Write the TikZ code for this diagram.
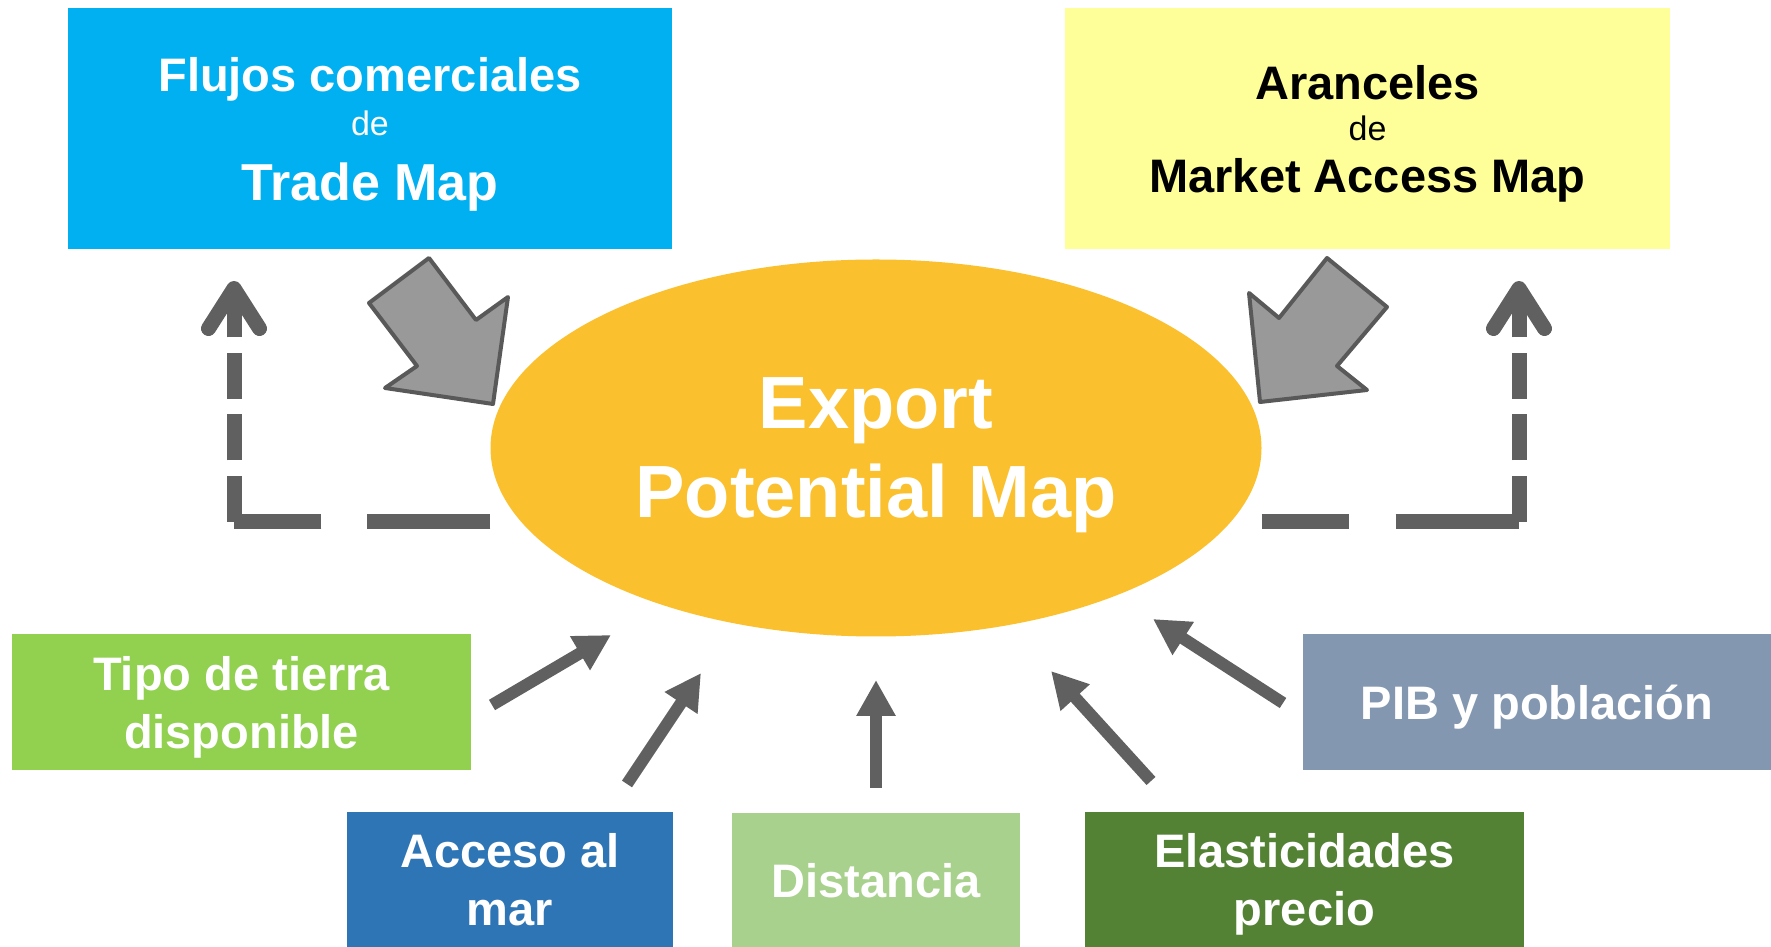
\documentclass[tikz,border=0pt]{standalone}
\usepackage{fontspec}
\setmainfont{Liberation Sans}
\usetikzlibrary{shapes.geometric,arrows.meta}

\definecolor{tmblue}{HTML}{00B0F0}
\definecolor{macyellow}{HTML}{FFFF99}
\definecolor{epmorange}{HTML}{FBC02D}
\definecolor{landgreen}{HTML}{92D050}
\definecolor{gdpgray}{HTML}{8497B0}
\definecolor{seablue}{HTML}{2E75B6}
\definecolor{distgreen}{HTML}{A9D18E}
\definecolor{elasgreen}{HTML}{548235}
\definecolor{arrowgray}{HTML}{606060}
\definecolor{blockgray}{HTML}{999999}
\definecolor{blockedge}{HTML}{595959}

\newcommand{\linesize}[1]{\fontsize{#1}{58}\selectfont}

\tikzset{
  box/.style={rectangle, inner sep=0pt, align=center, text=white, text depth=0pt,
    font=\fontsize{47}{58}\selectfont\bfseries},
  flow/.style={draw=arrowgray, line width=12pt, -{Triangle[length=36pt,width=37pt]}},
  feedback/.style={draw=arrowgray, line width=15pt},
  blockarrow/.style={fill=blockgray, draw=blockedge, line width=4pt, line join=round},
}

\begin{document}
\begin{tikzpicture}[x=1pt,y=1pt]
\useasboundingbox (0,0) rectangle (1771,947);
% Nodes
\node[box, fill=tmblue, minimum width=604pt, minimum height=241pt] (tm) at (370,818.5)
  {Flujos comerciales\\[-14pt] \linesize{34}\mdseries de\\[7pt] \linesize{52}\bfseries Trade Map};
\node[box, fill=macyellow, text=black, minimum width=605pt, minimum height=241pt] (mam) at (1367.5,818.5)
  {Aranceles\\[-17pt] \linesize{34}\mdseries de\\[-6pt] Market Access Map};
\node[ellipse, fill=epmorange, inner sep=0pt, minimum width=771pt, minimum height=377pt,
  align=center, text=white, text depth=0pt, font=\fontsize{74}{89}\selectfont\bfseries] (epm) at (876,499)
  {Export\\Potential Map};
\node[box, fill=landgreen, minimum width=459pt, minimum height=136pt] (land) at (241.5,245)
  {Tipo de tierra\\disponible};
\node[box, fill=gdpgray, minimum width=468pt, minimum height=136pt] (gdp) at (1537,245)
  {PIB y población};
\node[box, fill=seablue, minimum width=326pt, minimum height=135pt] (sea) at (510,67.5)
  {Acceso al\\mar};
\node[box, fill=distgreen, minimum width=288pt, minimum height=134pt] (dist) at (876,67)
  {Distancia};
\node[box, fill=elasgreen, minimum width=439pt, minimum height=135pt] (elas) at (1304.5,67.5)
  {Elasticidades\\precio};
% Block arrows
\draw[blockarrow] (429,689) -- (476,627) -- (508,650) -- (493,543) -- (385,559) -- (417,581) -- (369,644) -- cycle;
\draw[blockarrow] (1327,689) -- (1387,640) -- (1337,581) -- (1367,557) -- (1260,545) -- (1249,654) -- (1279,629) -- cycle;
% Feedback arrows
\coordinate (lcorner) at (234,425);
\coordinate (ltip) at (234,666);
\coordinate (rcorner) at (1519,425);
\coordinate (rtip) at (1519,666);
\draw[feedback, dash pattern=on 123pt off 46pt on 200pt] (epm.west |- lcorner) -- (lcorner);
\draw[feedback, dash pattern=on 46pt off 15.5pt, -{Straight Barb[length=40pt,width=51pt,round]}] (lcorner) -- (ltip);
\draw[feedback, dash pattern=on 87pt off 47pt on 200pt] (epm.east |- rcorner) -- (rcorner);
\draw[feedback, dash pattern=on 46pt off 15.5pt, -{Straight Barb[length=40pt,width=51pt,round]}] (rcorner) -- (rtip);
% Input arrows
\coordinate (landend) at (492,242);
\coordinate (landtip) at (611,312);
\coordinate (seaend) at (627,163);
\coordinate (seatip) at (701,274);
\coordinate (distend) at (876,159);
\coordinate (disttip) at (876,267);
\coordinate (elasend) at (1151,166);
\coordinate (elastip) at (1051,276);
\coordinate (gdpend) at (1283,244);
\coordinate (gdptip) at (1153,328);
\draw[flow] (landend) -- (landtip);
\draw[flow] (seaend) -- (seatip);
\draw[flow] (distend) -- (disttip);
\draw[flow] (elasend) -- (elastip);
\draw[flow] (gdpend) -- (gdptip);
\end{tikzpicture}
\end{document}
